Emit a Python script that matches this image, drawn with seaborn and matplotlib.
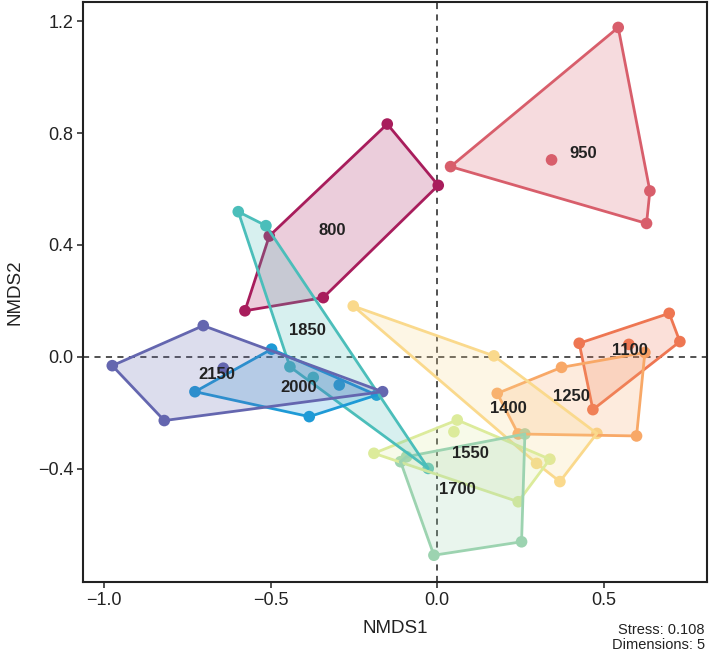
import numpy as np
import pandas as pd
import matplotlib
matplotlib.use("Agg")
import matplotlib.pyplot as plt
import seaborn as sns

# ---- data ----
groups = ["800", "950", "1100", "1250", "1400", "1550", "1700", "1850", "2000", "2150"]
colors = ["#A81D5C", "#D85E6B", "#EE7652", "#F8A867", "#FAD98C",
          "#DCEB9B", "#9CD3B0", "#4BBEBA", "#1E9AD6", "#6466AF"]

nmds1_800 = [-0.150, 0.003, -0.342, -0.577, -0.504]
nmds2_800 = [0.832, 0.613, 0.212, 0.165, 0.432]
nmds1_950 = [0.543, 0.040, 0.638, 0.628, 0.343]
nmds2_950 = [1.177, 0.680, 0.593, 0.477, 0.704]
nmds1_1100 = [0.696, 0.728, 0.467, 0.426, 0.575]
nmds2_1100 = [0.156, 0.055, -0.188, 0.049, 0.045]
nmds1_1250 = [0.180, 0.373, 0.623, 0.598, 0.243]
nmds2_1250 = [-0.130, -0.037, 0.016, -0.282, -0.275]
nmds1_1400 = [-0.252, 0.170, 0.479, 0.368, 0.298]
nmds2_1400 = [0.182, 0.004, -0.273, -0.445, -0.380]
nmds1_1550 = [0.060, 0.050, 0.338, 0.243, -0.190]
nmds2_1550 = [-0.225, -0.267, -0.365, -0.517, -0.344]
nmds1_1700 = [0.263, 0.253, -0.010, -0.110, -0.092]
nmds2_1700 = [-0.275, -0.660, -0.708, -0.374, -0.356]
nmds1_1850 = [-0.597, -0.514, -0.442, -0.027, -0.372]
nmds2_1850 = [0.519, 0.469, -0.035, -0.398, -0.073]
nmds1_2000 = [-0.497, -0.727, -0.384, -0.182, -0.294]
nmds2_2000 = [0.028, -0.124, -0.213, -0.136, -0.100]
nmds1_2150 = [-0.702, -0.975, -0.819, -0.164, -0.642]
nmds2_2150 = [0.112, -0.031, -0.227, -0.124, -0.040]

x_ticks = [-1.0, -0.5, 0.0, 0.5]
y_ticks = [-0.4, 0.0, 0.4, 0.8, 1.2]
stress_text = "Stress: 0.108\nDimensions: 5"

xs = [nmds1_800, nmds1_950, nmds1_1100, nmds1_1250, nmds1_1400,
      nmds1_1550, nmds1_1700, nmds1_1850, nmds1_2000, nmds1_2150]
ys = [nmds2_800, nmds2_950, nmds2_1100, nmds2_1250, nmds2_1400,
      nmds2_1550, nmds2_1700, nmds2_1850, nmds2_2000, nmds2_2150]

rows = []
for g, xv, yv in zip(groups, xs, ys):
    for a, b in zip(xv, yv):
        rows.append({"NMDS1": a, "NMDS2": b, "Elevation": g})
df = pd.DataFrame(rows)


def convex_hull(pts):
    pts = sorted(map(tuple, pts))
    if len(pts) <= 2:
        return pts

    def cross(o, a, b):
        return (a[0] - o[0]) * (b[1] - o[1]) - (a[1] - o[1]) * (b[0] - o[0])

    lower = []
    for p in pts:
        while len(lower) >= 2 and cross(lower[-2], lower[-1], p) <= 0:
            lower.pop()
        lower.append(p)
    upper = []
    for p in reversed(pts):
        while len(upper) >= 2 and cross(upper[-2], upper[-1], p) <= 0:
            upper.pop()
        upper.append(p)
    return lower[:-1] + upper[:-1]


plt.rcParams["font.family"] = ["Liberation Sans", "DejaVu Sans"]
fig = plt.figure(figsize=(7.09, 6.57), dpi=100)
ax = fig.add_axes([0.117, 0.114, 0.880, 0.883])

pal = dict(zip(groups, colors))
sns.scatterplot(data=df, x="NMDS1", y="NMDS2", hue="Elevation", palette=pal,
                hue_order=groups, s=70, edgecolor="none", linewidth=0,
                legend=False, ax=ax, zorder=2)

for g in groups:
    sub = df[df["Elevation"] == g]
    hull = np.array(convex_hull(sub[["NMDS1", "NMDS2"]].values))
    ax.fill(hull[:, 0], hull[:, 1], facecolor=pal[g], alpha=0.22,
            edgecolor="none", zorder=3)
    closed = np.vstack([hull, hull[:1]])
    ax.plot(closed[:, 0], closed[:, 1], color=pal[g], lw=2.0, zorder=3,
            solid_joinstyle="round")

for g in groups:
    sub = df[df["Elevation"] == g]
    ax.text(sub["NMDS1"].mean(), sub["NMDS2"].mean(), g, ha="center",
            va="center", fontsize=12, fontweight="bold", color="#222222",
            zorder=5)

ax.axhline(0, color="#222222", lw=1.1, ls=(0, (4, 3.5)), zorder=1)
ax.axvline(0, color="#222222", lw=1.1, ls=(0, (4, 3.5)), zorder=1)

ax.set_xlim(-1.063, 0.809)
ax.set_ylim(-0.804, 1.268)
ax.set_xticks(x_ticks)
ax.set_yticks(y_ticks)
ax.set_xticklabels([f"{v:.1f}".replace("-", "\u2212") for v in x_ticks])
ax.set_yticklabels([f"{v:.1f}".replace("-", "\u2212") for v in y_ticks])
ax.tick_params(labelsize=13, length=4, width=1.2, color="#333333",
               labelcolor="#222222", pad=3)
for s in ax.spines.values():
    s.set_linewidth(1.5)
    s.set_color("#222222")
ax.set_xlabel("NMDS1", fontsize=13.5, color="#222222", labelpad=8)
ax.set_ylabel("NMDS2", fontsize=13.5, color="#222222", labelpad=10)
ax.set_facecolor("white")

fig.text(0.994, 0.008, stress_text, ha="right", va="bottom", fontsize=10.5,
         color="#222222", linespacing=1.1)

fig.savefig("out.png", dpi=100, facecolor="white")
